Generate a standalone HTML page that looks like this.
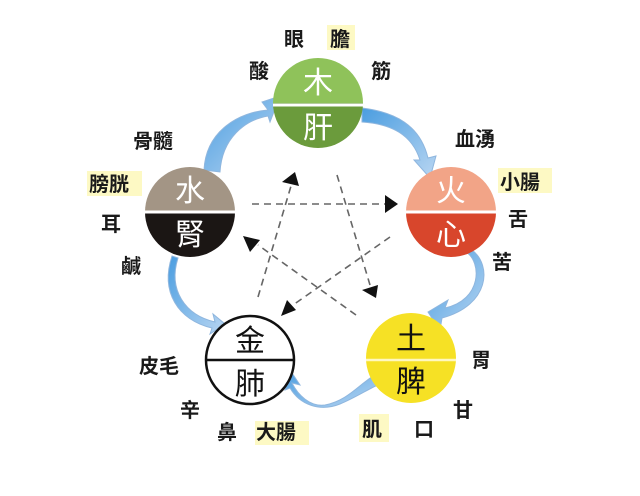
<!DOCTYPE html>
<html><head><meta charset="utf-8"><style>
body{margin:0;background:#fff;width:640px;height:491px;overflow:hidden;font-family:"Liberation Sans","Noto Sans CJK TC",sans-serif}
svg text{font-family:"Liberation Sans","Noto Sans CJK TC",sans-serif}
</style></head><body>
<svg width="640" height="491" viewBox="0 0 640 491" xmlns="http://www.w3.org/2000/svg">
<defs>
<linearGradient id="bl" x1="0" y1="0" x2="1" y2="1"><stop offset="0" stop-color="#4a9de0"/><stop offset="1" stop-color="#b9d6f2"/></linearGradient>
</defs>
<g fill="#fdf9c4">
<rect x="327" y="25" width="28" height="25"/>
<rect x="498" y="168" width="54" height="25"/>
<rect x="87" y="171" width="55" height="25"/>
<rect x="255" y="421" width="54" height="24"/>
<rect x="359" y="414" width="30" height="28"/>
</g>
<g stroke="#666" stroke-width="1.6" stroke-dasharray="7,5" fill="none">
<line x1="252" y1="204" x2="386" y2="204"/>
<line x1="258" y1="297" x2="291" y2="186"/>
<line x1="337" y1="175" x2="370" y2="285"/>
<line x1="390" y1="237" x2="293" y2="305"/>
<line x1="356" y1="315" x2="258" y2="245"/>
</g>
<g fill="#111">
<polygon points="398,204 385,195 385,213"/>
<polygon points="295,172 282,182 299,186"/>
<polygon points="376,298 362,290 378,285"/>
<polygon points="281,316 287,300 296,310"/>
<polygon points="243,236 260,240 250,252"/>
</g>
<g fill="url(#bl)" stroke="#8fb6de" stroke-width="1">
<path d="M204,170 C206,130 240,112 268,110 L262,102 L280,96 L270,122 L268,116 C245,120 222,138 220,172 Z"/>
<path d="M362,108 C395,112 420,125 428,158 L436,156 L430,178 L414,160 L420,160 C412,135 392,124 362,122 Z"/>
<path d="M466,252 C482,262 482,300 445,308 L448,300 L428,312 L440,330 L442,318 C490,305 492,265 472,250 Z"/>
<path d="M380,372 C360,382 350,400 325,405 C310,407 298,395 292,383 L300,385 L290,370 L285,390 L290,388 C300,405 320,412 340,404 C355,398 370,388 380,384 Z"/>
<path d="M178,258 C168,290 185,315 215,322 L213,314 L225,324 L210,334 L212,328 C178,320 160,292 172,256 Z"/>
</g>
<path d="M273,103 A45,45 0 0 1 363,103 Z" fill="#8fc25a"/>
<path d="M273,103 A45,45 0 0 0 363,103 Z" fill="#6b9b3c"/>
<line x1="273" y1="105" x2="363" y2="105" stroke="#fff" stroke-width="3"/>
<path d="M406,212 A45,45 0 0 1 496,212 Z" fill="#f2a487"/>
<path d="M406,212 A45,45 0 0 0 496,212 Z" fill="#d8462c"/>
<line x1="406" y1="212" x2="496" y2="212" stroke="#fff" stroke-width="3"/>
<path d="M145,212 A45,45 0 0 1 235,212 Z" fill="#a39585"/>
<path d="M145,212 A45,45 0 0 0 235,212 Z" fill="#1b1614"/>
<line x1="145" y1="212" x2="235" y2="212" stroke="#fff" stroke-width="3"/>
<circle cx="250" cy="360" r="44" fill="#fff" stroke="#111" stroke-width="2.5"/>
<line x1="206" y1="360" x2="294" y2="360" stroke="#111" stroke-width="2.5"/>
<circle cx="411" cy="358" r="45" fill="#f6e125"/>
<line x1="366" y1="360" x2="456" y2="360" stroke="#fff8c0" stroke-width="2.5"/>
<g font-size="30" text-anchor="middle">
<text x="318" y="93" fill="#fff">木</text><text x="318" y="138" fill="#fff">肝</text>
<text x="451" y="201" fill="#fff">火</text><text x="451" y="245" fill="#fff">心</text>
<text x="190" y="201" fill="#fff">水</text><text x="190" y="245" fill="#fff">腎</text>
<text x="250" y="351" fill="#111">金</text><text x="250" y="394" fill="#111">肺</text>
<text x="411" y="349" fill="#111">土</text><text x="411" y="392" fill="#111">脾</text>
</g>
<g font-size="20" fill="#1a1a1a" font-weight="600">
<text x="284" y="46">眼</text><text x="330" y="46">膽</text>
<text x="249" y="78">酸</text><text x="371" y="78">筋</text>
<text x="455" y="146">血湧</text>
<text x="500" y="189">小腸</text>
<text x="508" y="226">舌</text>
<text x="492" y="269">苦</text>
<text x="133" y="148">骨髓</text>
<text x="89" y="191">膀胱</text>
<text x="101" y="231">耳</text>
<text x="121" y="273">鹹</text>
<text x="471" y="367">胃</text>
<text x="453" y="417">甘</text>
<text x="362" y="436">肌</text><text x="414" y="436">口</text>
<text x="139" y="373">皮毛</text>
<text x="180" y="417">辛</text>
<text x="217" y="439">鼻</text><text x="256" y="439">大腸</text>
</g>
</svg>
</body></html>
